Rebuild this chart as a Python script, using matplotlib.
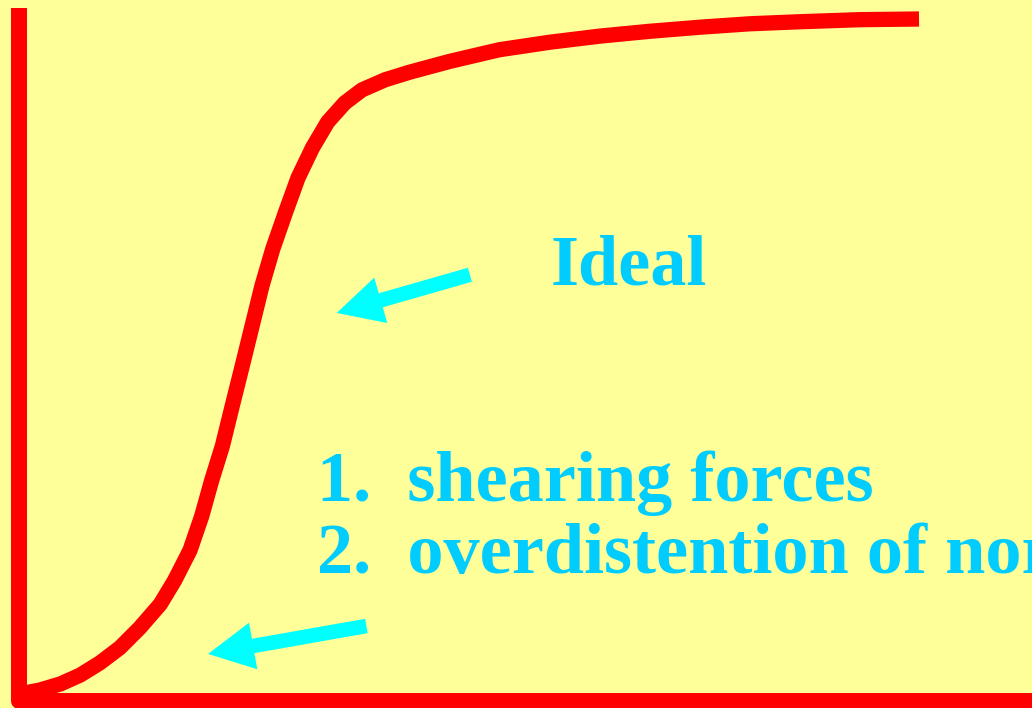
import matplotlib
matplotlib.use("Agg")
import matplotlib.pyplot as plt
from matplotlib.patches import FancyArrowPatch

# Curve data (arbitrary units: x = pressure, y = volume)
curve_x = [0.7, 2.3, 4.6, 6.8, 9.0, 11.2, 13.4, 15.7, 17.3, 19.0, 20.3,
           21.4, 22.6, 23.7, 24.8, 25.9, 27.0, 28.2, 29.6, 31.0, 32.6,
           34.3, 36.2, 38.1, 40.7, 43.4, 47.9, 53.4, 59.0, 64.6, 70.1,
           75.7, 81.2, 86.8, 93.4, 100.0]
curve_y = [1.2, 1.6, 2.5, 3.8, 5.6, 7.8, 10.7, 14.2, 17.7, 22.1, 27.1,
           32.3, 37.4, 43.3, 49.1, 55.0, 60.9, 66.3, 71.6, 76.7, 81.1,
           84.9, 87.7, 89.6, 91.1, 92.2, 93.8, 95.5, 96.6, 97.5, 98.2,
           98.8, 99.3, 99.6, 99.9, 100.0]

# Axis frame lines
axis_x = [0.0, 0.0, 115.0]
axis_y = [101.6, 0.0, 0.0]

# Arrows: (tail, tip)
arrows = [((50.1, 62.5), (35.3, 56.9)),
          ((38.6, 11.0), (21.0, 6.9))]

labels = ["Ideal", "1.  shearing forces", "2.  overdistention of normal alveoli"]
label_pos = [(59.1, 61.1), (33.1, 29.3), (33.1, 18.8)]

BG = "#FFFF99"
RED = "#FF0000"
CYAN = "#00FFFF"
TXT = "#00CCFF"

fig = plt.figure(figsize=(10.32, 7.08), dpi=100)
fig.patch.set_facecolor(BG)
ax = fig.add_axes([0, 0, 1, 1])
ax.set_facecolor(BG)
ax.set_xlim(-19 / 9.0, (1032 - 19) / 9.0)
ax.set_ylim(-7 / 6.82, 701 / 6.82)
ax.axis("off")

ax.plot(axis_x, axis_y, color=RED, lw=11.5, solid_joinstyle="round",
        solid_capstyle="butt", clip_on=False)
ax.plot(curve_x, curve_y, color=RED, lw=11.0, solid_joinstyle="round",
        solid_capstyle="butt")

for tail, tip in arrows:
    a = FancyArrowPatch(tail, tip,
                        arrowstyle="simple,head_length=33,head_width=34,tail_width=10.5",
                        mutation_scale=1, color=CYAN, shrinkA=0, shrinkB=0, lw=0)
    ax.add_patch(a)

for txt, (x, y) in zip(labels, label_pos):
    ax.text(x, y, txt, color=TXT, fontsize=52, fontweight="bold",
            family="Liberation Serif", ha="left", va="baseline")

fig.savefig("out.png", dpi=100, facecolor=BG)
